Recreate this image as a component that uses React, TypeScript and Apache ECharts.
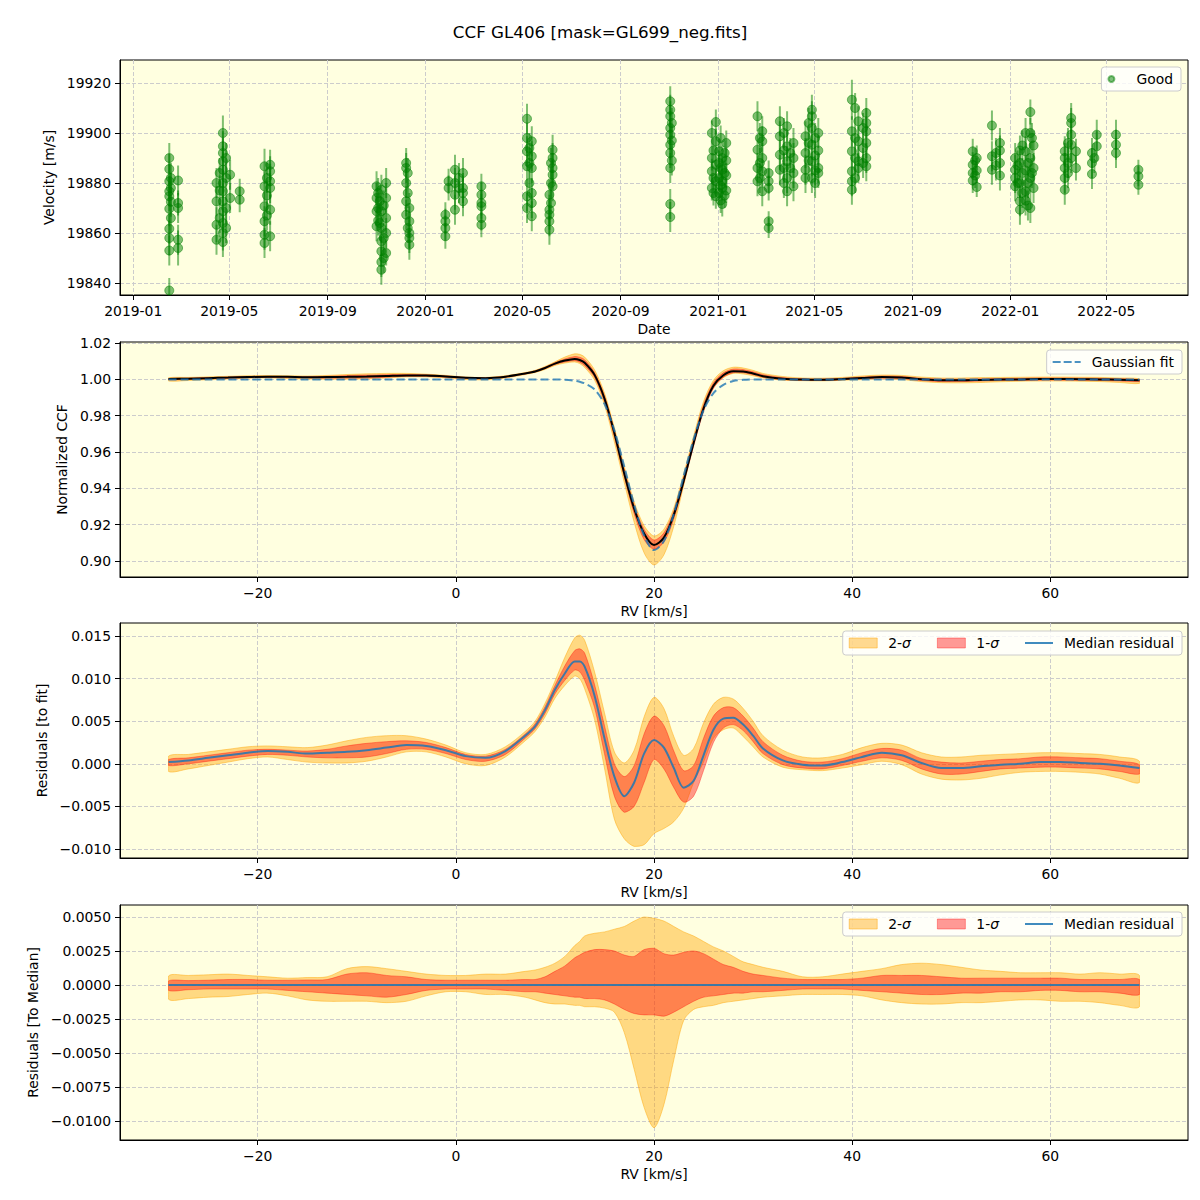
import React, { useEffect, useRef } from "react";
import * as echarts from "echarts";

const FONT = "DejaVu Sans";
const TITLE = "CCF GL406 [mask=GL699_neg.fits]";

// ---------- Panel 1: velocity time series  [date, velocity m/s, error m/s]
const OBS: [string, number, number][] = [
  ["2019-02-15", 19890, 6], ["2019-02-15", 19885.6, 6], ["2019-02-15", 19880.7, 7], ["2019-02-15", 19876.7, 6], ["2019-02-15", 19874.7, 6],
  ["2019-02-15", 19869.7, 7], ["2019-02-15", 19861.7, 6], ["2019-02-15", 19858, 7], ["2019-02-15", 19853, 6], ["2019-02-15", 19837, 5],
  ["2019-02-17", 19878, 6], ["2019-02-17", 19872.5, 6], ["2019-02-17", 19866, 6], ["2019-02-17", 19882, 6],
  ["2019-02-26", 19881, 6], ["2019-02-26", 19872, 5], ["2019-02-26", 19870, 6], ["2019-02-26", 19857.3, 6], ["2019-02-26", 19854, 7],
  ["2019-04-15", 19880, 6], ["2019-04-15", 19872.7, 6], ["2019-04-15", 19863.3, 7], ["2019-04-15", 19857.3, 6],
  ["2019-04-19", 19884, 6], ["2019-04-19", 19877, 6], ["2019-04-19", 19866, 6],
  ["2019-04-23", 19900, 7], ["2019-04-23", 19894.7, 6], ["2019-04-23", 19892, 6], ["2019-04-23", 19888.7, 6], ["2019-04-23", 19885.3, 7],
  ["2019-04-23", 19880, 6], ["2019-04-23", 19876.7, 6], ["2019-04-23", 19872.7, 7], ["2019-04-23", 19868.7, 6], ["2019-04-23", 19864, 6],
  ["2019-04-23", 19860, 7], ["2019-04-23", 19856.4, 6],
  ["2019-04-27", 19890, 6], ["2019-04-27", 19882, 6], ["2019-04-27", 19870, 6], ["2019-04-27", 19862, 6],
  ["2019-05-02", 19883.3, 6], ["2019-05-02", 19874, 6], ["2019-05-14", 19876.7, 5], ["2019-05-14", 19873.3, 5],
  ["2019-06-14", 19886.7, 7], ["2019-06-14", 19878.7, 6], ["2019-06-14", 19870.7, 6], ["2019-06-14", 19864.7, 6], ["2019-06-14", 19859.3, 6], ["2019-06-14", 19856, 6],
  ["2019-06-17", 19882, 6], ["2019-06-17", 19875, 6], ["2019-06-17", 19867, 6],
  ["2019-06-21", 19887.3, 6], ["2019-06-21", 19884.7, 6], ["2019-06-21", 19880.7, 7], ["2019-06-21", 19878, 6], ["2019-06-21", 19869.3, 6], ["2019-06-21", 19858.7, 6],
  ["2019-11-01", 19878.7, 6], ["2019-11-01", 19874, 6], ["2019-11-01", 19868.7, 6], ["2019-11-01", 19862.7, 6],
  ["2019-11-03", 19876, 6], ["2019-11-03", 19870, 6], ["2019-11-03", 19865, 6],
  ["2019-11-05", 19872.7, 6], ["2019-11-05", 19864, 7],
  ["2019-11-07", 19877.3, 6], ["2019-11-07", 19868.7, 6], ["2019-11-07", 19862, 6], ["2019-11-07", 19856.7, 6], ["2019-11-07", 19852.7, 6],
  ["2019-11-07", 19848.4, 6], ["2019-11-07", 19845.3, 6],
  ["2019-11-10", 19871, 6], ["2019-11-10", 19858, 6], ["2019-11-10", 19850, 6],
  ["2019-11-13", 19880, 6], ["2019-11-13", 19874, 6], ["2019-11-13", 19866, 6], ["2019-11-13", 19860, 6], ["2019-11-13", 19852, 5],
  ["2019-12-08", 19888, 6], ["2019-12-08", 19886, 6], ["2019-12-08", 19880, 6], ["2019-12-08", 19872.7, 6], ["2019-12-08", 19867.3, 6],
  ["2019-12-10", 19884, 6], ["2019-12-10", 19876, 6], ["2019-12-10", 19862, 6],
  ["2019-12-12", 19870, 6], ["2019-12-12", 19864.7, 6], ["2019-12-12", 19860, 6], ["2019-12-12", 19858, 6], ["2019-12-12", 19855.3, 6],
  ["2020-01-26", 19867.3, 5], ["2020-01-26", 19864.7, 5], ["2020-01-26", 19862, 5], ["2020-01-26", 19858.7, 5],
  ["2020-01-30", 19880.7, 5], ["2020-01-30", 19878, 5],
  ["2020-02-07", 19885.3, 6], ["2020-02-07", 19880, 6], ["2020-02-07", 19875.3, 6], ["2020-02-07", 19869.3, 6],
  ["2020-02-12", 19882, 6], ["2020-02-12", 19878, 6],
  ["2020-02-17", 19884, 6], ["2020-02-17", 19878, 6], ["2020-02-17", 19876, 6], ["2020-02-17", 19872.7, 6],
  ["2020-03-11", 19878.7, 5], ["2020-03-11", 19875.3, 5], ["2020-03-11", 19872, 5], ["2020-03-11", 19870.7, 5], ["2020-03-11", 19866, 5], ["2020-03-11", 19863.3, 5],
  ["2020-05-07", 19905.7, 6], ["2020-05-07", 19898, 6], ["2020-05-07", 19892.7, 6], ["2020-05-07", 19886.7, 6], ["2020-05-07", 19874.7, 6], ["2020-05-07", 19870, 6],
  ["2020-05-10", 19894, 6], ["2020-05-10", 19888, 6], ["2020-05-10", 19880, 6],
  ["2020-05-13", 19896.7, 6], ["2020-05-13", 19890.7, 6], ["2020-05-13", 19886, 6], ["2020-05-13", 19876, 6], ["2020-05-13", 19872, 6], ["2020-05-13", 19866.7, 6],
  ["2020-06-04", 19875.3, 6], ["2020-06-04", 19869.3, 6], ["2020-06-04", 19867.3, 6], ["2020-06-04", 19864.7, 6], ["2020-06-04", 19861.3, 6],
  ["2020-06-06", 19872, 6], ["2020-06-06", 19880, 6], ["2020-06-06", 19888, 6],
  ["2020-06-08", 19893.3, 6], ["2020-06-08", 19890, 6], ["2020-06-08", 19886, 6], ["2020-06-08", 19883.3, 6], ["2020-06-08", 19878.7, 6],
  ["2020-11-02", 19912.7, 6], ["2020-11-02", 19909.3, 6], ["2020-11-02", 19906.7, 6], ["2020-11-02", 19902, 6], ["2020-11-02", 19899.3, 6],
  ["2020-11-02", 19895.3, 6], ["2020-11-02", 19892, 6], ["2020-11-02", 19886, 6], ["2020-11-02", 19871.6, 6], ["2020-11-02", 19866.4, 6],
  ["2020-11-04", 19904, 6], ["2020-11-04", 19897, 6], ["2020-11-04", 19889, 6],
  ["2020-12-24", 19900, 5], ["2020-12-24", 19890, 5], ["2020-12-24", 19884.7, 5], ["2020-12-24", 19878, 5],
  ["2020-12-26", 19893, 5], ["2020-12-26", 19882, 5], ["2020-12-26", 19876, 5],
  ["2020-12-29", 19904.4, 5], ["2020-12-29", 19896.7, 5], ["2020-12-29", 19887.3, 5], ["2020-12-29", 19880.7, 5], ["2020-12-29", 19874.7, 5],
  ["2021-01-02", 19892.7, 5], ["2021-01-02", 19888, 5], ["2021-01-02", 19882, 5], ["2021-01-02", 19876, 5],
  ["2021-01-04", 19898, 5], ["2021-01-04", 19886, 5], ["2021-01-04", 19879, 5], ["2021-01-04", 19873, 5],
  ["2021-01-06", 19890, 5], ["2021-01-06", 19885.3, 5], ["2021-01-06", 19880.7, 5], ["2021-01-06", 19878, 5], ["2021-01-06", 19871.6, 5],
  ["2021-01-09", 19892, 5], ["2021-01-09", 19884, 5], ["2021-01-09", 19875, 5],
  ["2021-01-11", 19896, 5], ["2021-01-11", 19889, 5], ["2021-01-11", 19883, 5], ["2021-01-11", 19877, 5],
  ["2021-02-19", 19906.7, 6], ["2021-02-19", 19893.3, 6], ["2021-02-19", 19886, 6], ["2021-02-19", 19880.7, 6],
  ["2021-02-22", 19898, 6], ["2021-02-22", 19888, 6], ["2021-02-22", 19882, 6],
  ["2021-02-25", 19900.7, 6], ["2021-02-25", 19896.7, 6], ["2021-02-25", 19890, 6], ["2021-02-25", 19884.7, 6], ["2021-02-25", 19876.7, 6],
  ["2021-03-05", 19884, 5], ["2021-03-05", 19880.7, 5], ["2021-03-05", 19878, 5], ["2021-03-05", 19864.7, 4], ["2021-03-05", 19862, 4],
  ["2021-03-19", 19904.7, 6], ["2021-03-19", 19898.7, 6], ["2021-03-19", 19891.3, 6], ["2021-03-19", 19885.3, 6],
  ["2021-03-24", 19900, 6], ["2021-03-24", 19893, 6], ["2021-03-24", 19886, 6], ["2021-03-24", 19880, 6],
  ["2021-03-28", 19902.7, 6], ["2021-03-28", 19894.7, 6], ["2021-03-28", 19888.7, 6], ["2021-03-28", 19882, 6], ["2021-03-28", 19876.7, 6],
  ["2021-04-01", 19892, 6], ["2021-04-01", 19886, 6],
  ["2021-04-05", 19896, 6], ["2021-04-05", 19890, 6], ["2021-04-05", 19884, 6], ["2021-04-05", 19878.7, 6],
  ["2021-04-20", 19898.7, 6], ["2021-04-20", 19892, 6], ["2021-04-20", 19885.3, 6], ["2021-04-20", 19882, 6],
  ["2021-04-24", 19904, 6], ["2021-04-24", 19896, 6], ["2021-04-24", 19889, 6],
  ["2021-04-28", 19909.3, 6], ["2021-04-28", 19906.7, 6], ["2021-04-28", 19902, 6], ["2021-04-28", 19895.3, 6], ["2021-04-28", 19888.7, 6], ["2021-04-28", 19882, 6],
  ["2021-05-02", 19898, 6], ["2021-05-02", 19891, 6], ["2021-05-02", 19885, 6], ["2021-05-02", 19880, 6],
  ["2021-05-06", 19900, 6], ["2021-05-06", 19893, 6], ["2021-05-06", 19886, 6], ["2021-05-06", 19884, 6],
  ["2021-06-17", 19913.3, 8], ["2021-06-17", 19900.7, 6], ["2021-06-17", 19892.7, 6], ["2021-06-17", 19884.7, 6], ["2021-06-17", 19880.7, 6], ["2021-06-17", 19877.3, 6],
  ["2021-06-21", 19910, 6], ["2021-06-21", 19898, 6], ["2021-06-21", 19890, 6], ["2021-06-21", 19882, 6],
  ["2021-06-25", 19904.7, 6], ["2021-06-25", 19896.7, 6], ["2021-06-25", 19888.7, 6], ["2021-06-25", 19886, 6],
  ["2021-07-01", 19902, 6], ["2021-07-01", 19894, 6], ["2021-07-01", 19888, 6],
  ["2021-07-05", 19908, 6], ["2021-07-05", 19904, 6], ["2021-07-05", 19900.7, 6], ["2021-07-05", 19896, 6], ["2021-07-05", 19890, 6], ["2021-07-05", 19886.7, 6],
  ["2021-11-15", 19892.7, 5], ["2021-11-15", 19887.3, 5], ["2021-11-15", 19884, 5], ["2021-11-15", 19881, 5],
  ["2021-11-18", 19889, 5], ["2021-11-18", 19883, 5],
  ["2021-11-20", 19890, 5], ["2021-11-20", 19885, 5], ["2021-11-20", 19878.4, 4],
  ["2021-12-09", 19903, 6], ["2021-12-09", 19890.7, 6], ["2021-12-09", 19885.3, 6],
  ["2021-12-14", 19892, 6], ["2021-12-14", 19887, 6],
  ["2021-12-19", 19896, 6], ["2021-12-19", 19893, 6], ["2021-12-19", 19888, 6], ["2021-12-19", 19883, 6],
  ["2022-01-07", 19890, 6], ["2022-01-07", 19885.3, 6], ["2022-01-07", 19882, 6], ["2022-01-07", 19878.7, 6],
  ["2022-01-10", 19887, 6], ["2022-01-10", 19880, 6],
  ["2022-01-13", 19893, 6], ["2022-01-13", 19888, 6], ["2022-01-13", 19880, 6], ["2022-01-13", 19872.7, 6], ["2022-01-13", 19869.3, 6],
  ["2022-01-16", 19895, 6], ["2022-01-16", 19884, 6], ["2022-01-16", 19876, 6],
  ["2022-01-20", 19900, 6], ["2022-01-20", 19892.7, 6], ["2022-01-20", 19885, 6], ["2022-01-20", 19876.7, 6], ["2022-01-20", 19873, 6],
  ["2022-01-23", 19888, 6], ["2022-01-23", 19880, 6], ["2022-01-23", 19871, 6],
  ["2022-01-26", 19908.4, 5], ["2022-01-26", 19900, 6], ["2022-01-26", 19890, 6], ["2022-01-26", 19882, 6], ["2022-01-26", 19870, 6],
  ["2022-01-28", 19898, 6], ["2022-01-28", 19884, 6],
  ["2022-01-30", 19895, 6], ["2022-01-30", 19886, 6], ["2022-01-30", 19878, 6],
  ["2022-03-10", 19892.7, 6], ["2022-03-10", 19890, 6], ["2022-03-10", 19886, 6], ["2022-03-10", 19882, 6], ["2022-03-10", 19877.3, 6],
  ["2022-03-14", 19896, 6], ["2022-03-14", 19888, 6], ["2022-03-14", 19884, 6],
  ["2022-03-18", 19906, 6], ["2022-03-18", 19904, 6], ["2022-03-18", 19899.3, 6], ["2022-03-18", 19895.3, 6], ["2022-03-18", 19890, 6],
  ["2022-03-24", 19892.7, 5], ["2022-03-24", 19886, 5],
  ["2022-04-13", 19892, 6], ["2022-04-13", 19888, 6], ["2022-04-13", 19883.6, 6],
  ["2022-04-16", 19890, 6],
  ["2022-04-19", 19899.3, 6], ["2022-04-19", 19894.7, 6],
  ["2022-05-13", 19899.3, 6], ["2022-05-13", 19895.3, 6], ["2022-05-13", 19892, 6],
  ["2022-06-10", 19885.3, 4], ["2022-06-10", 19882.7, 4], ["2022-06-10", 19879.3, 4],
];

const DATE_TICKS = ["2019-01-01", "2019-05-01", "2019-09-01", "2020-01-01", "2020-05-01", "2020-09-01",
  "2021-01-01", "2021-05-01", "2021-09-01", "2022-01-01", "2022-05-01"];
const VEL_TICKS = [19840, 19860, 19880, 19900, 19920];

// ---------- Panels 2-4: CCF profile vs RV [km/s]
const RV = [
  -29, -27, -25, -23, -21, -19, -17, -15, -13, -11, -9, -7, -5, -3, -1,
  1, 3, 5, 7,
  8, 9, 10, 11, 12,
  12.5,
  13, 14, 15, 16, 17, 18, 19, 20, 21, 22, 23, 24, 25, 26, 27, 28, 29, 30, 31,
  33, 35, 37, 39, 41, 43, 45, 47, 49, 51, 53, 55, 57, 59, 61, 63, 65, 67, 69,
];

const GAUSS_FIT = [
  1, 1, 1, 1, 1, 1, 1, 1, 1, 1, 1, 1, 1, 1, 1,
  1, 1, 1, 1,
  1, 1, 0.99995, 0.9998, 0.9993,
  0.9987,
  0.9978, 0.9945, 0.9865, 0.972, 0.952, 0.931, 0.914, 0.906, 0.911, 0.926, 0.947, 0.967, 0.983, 0.9925, 0.997, 0.9991, 0.9998, 1, 1,
  1, 1, 1, 1, 1, 1, 1, 1, 1, 1, 1, 1, 1, 1, 1, 1, 1, 1, 1,
];

const CCF_MEDIAN = [
  1.0002, 1.0004, 1.0007, 1.001, 1.0013, 1.0015, 1.0014, 1.0012, 1.0013, 1.0014, 1.0016, 1.0019, 1.0022, 1.0021, 1.0016,
  1.0009, 1.0007, 1.0015, 1.0033,
  1.0044, 1.0063, 1.0087, 1.0104, 1.0113,
  1.0107,
  1.0092, 1.0025, 0.9895, 0.9705, 0.9482, 0.9288, 0.9152, 0.9088, 0.9129, 0.9255, 0.9442, 0.965, 0.984, 0.9965, 1.0023, 1.0045, 1.0044, 1.0033, 1.0018,
  1.0004, 0.9999, 0.9998, 1.0002, 1.0008, 1.0013, 1.001, 1.0001, 0.9995, 0.9995, 0.9997, 0.9999, 1.0, 1.0002, 1.0002, 1.0001, 1.0, 0.9998, 0.9995,
];

// residuals to the Gaussian fit
const RES_MED = [
  0.0002, 0.0004, 0.0007, 0.001, 0.0013, 0.0015, 0.0014, 0.0012, 0.0013, 0.0014, 0.0016, 0.0019, 0.0022, 0.0021, 0.0016,
  0.0009, 0.0007, 0.0015, 0.0033,
  0.0044, 0.0063, 0.0087, 0.0106, 0.012,
  0.012,
  0.0114, 0.008, 0.003, -0.0015, -0.0038, -0.0022, 0.0012, 0.0028, 0.0019, -0.0005, -0.0028, -0.002, 0.001, 0.004, 0.0053, 0.0054, 0.0046, 0.0033, 0.0018,
  0.0004, -0.0001, -0.0002, 0.0002, 0.0008, 0.0013, 0.001, 0.0001, -0.0005, -0.0005, -0.0003, -0.0001, 0.0, 0.0002, 0.0002, 0.0001, 0.0, -0.0002, -0.0005,
];
const RES_2HI = [
  0.0009, 0.0011, 0.0014, 0.0017, 0.002, 0.0021, 0.002, 0.0019, 0.0022, 0.0027, 0.0031, 0.0033, 0.0033, 0.0029, 0.0022,
  0.0013, 0.0011, 0.002, 0.0038,
  0.005, 0.0071, 0.0097, 0.0125, 0.0148,
  0.0151,
  0.0145, 0.0108, 0.006, 0.0014, 0.0001, 0.0016, 0.0055, 0.0078, 0.0065, 0.0032, 0.001, 0.0018, 0.0048, 0.007, 0.0078, 0.0076, 0.0065, 0.005, 0.0033,
  0.0016, 0.0008, 0.0007, 0.0011, 0.0019, 0.0024, 0.0022, 0.0013, 0.0008, 0.0008, 0.001, 0.0011, 0.0012, 0.0013, 0.0013, 0.0012, 0.0011, 0.0008, 0.0003,
];
const RES_2LO = [
  -0.0009, -0.0006, -0.0002, 0.0002, 0.0006, 0.0008, 0.0005, 0.0002, 0.0001, 0.0001, 0.0003, 0.0008, 0.0014, 0.0014, 0.0008,
  0.0, -0.0002, 0.0008, 0.0027,
  0.0038, 0.0055, 0.0077, 0.0092, 0.0103,
  0.01,
  0.0088, 0.0052, -0.0005, -0.0065, -0.0088, -0.0097, -0.0095, -0.0082, -0.0076, -0.0068, -0.0052, -0.0022, 0.0002, 0.003, 0.004, 0.0042, 0.0032, 0.002, 0.0008,
  -0.0004, -0.0007, -0.0008, -0.0005, -0.0001, 0.0003, -0.0001, -0.0012, -0.0018, -0.0019, -0.0017, -0.0013, -0.001, -0.0009, -0.0009, -0.001, -0.0012, -0.0017, -0.0022,
];
const RES_1HI = [
  0.0005, 0.0007, 0.001, 0.0013, 0.0016, 0.0017, 0.0016, 0.0015, 0.0017, 0.0021, 0.0024, 0.0026, 0.0027, 0.0025, 0.0019,
  0.0011, 0.0009, 0.0017, 0.0035,
  0.0047, 0.0067, 0.0092, 0.0115, 0.0133,
  0.0135,
  0.013, 0.0093, 0.0045, 0.0, -0.0015, -0.0002, 0.0035, 0.0056, 0.0045, 0.0015, -0.0008, -0.0002, 0.003, 0.0056, 0.0066, 0.0066, 0.0056, 0.0042, 0.0026,
  0.001, 0.0003, 0.0002, 0.0006, 0.0013, 0.0018, 0.0016, 0.0006, 0.0002, 0.0001, 0.0003, 0.0005, 0.0006, 0.0008, 0.0008, 0.0007, 0.0006, 0.0003, -0.0001,
];
const RES_1LO = [
  -0.0002, 0.0, 0.0003, 0.0006, 0.0009, 0.0011, 0.001, 0.0008, 0.0007, 0.0007, 0.0008, 0.0012, 0.0017, 0.0017, 0.0012,
  0.0005, 0.0003, 0.0011, 0.003,
  0.0041, 0.0059, 0.0082, 0.0098, 0.011,
  0.0108,
  0.0098, 0.0066, 0.0012, -0.0038, -0.0057, -0.005, -0.0022, 0.0005, -0.0006, -0.0028, -0.0045, -0.0038, -0.0008, 0.0025, 0.0042, 0.0046, 0.0039, 0.0026, 0.0012,
  -0.0001, -0.0005, -0.0006, -0.0002, 0.0003, 0.0007, 0.0004, -0.0006, -0.0012, -0.0012, -0.0009, -0.0006, -0.0005, -0.0004, -0.0004, -0.0005, -0.0006, -0.0009, -0.0012,
];

// residuals to the median CCF
const MED_LINE = [
  0, 0, 0, 0, 0, 0, 0, 0, 0, 0, 0, 0, 0, 0, 0,
  0, 0, 0, 0,
  0, 0, 0, 0, 0,
  0,
  0, 0, 0, 0, 0, 0, 0, 0, 0, 0, 0, 0, 0, 0, 0, 0, 0, 0, 0,
  0, 0, 0, 0, 0, 0, 0, 0, 0, 0, 0, 0, 0, 0, 0, 0, 0, 0, 0,
];
const MED_2HI = [
  0.00066, 0.0007, 0.00075, 0.0008, 0.0007, 0.0006, 0.0005, 0.00055, 0.0006, 0.0012, 0.00135, 0.0012, 0.001, 0.0008, 0.0007,
  0.0007, 0.0008, 0.0008, 0.001,
  0.0011, 0.0013, 0.0016, 0.0021, 0.0029,
  0.0032,
  0.0036, 0.0038, 0.0039, 0.0041, 0.0043, 0.0047, 0.005, 0.0049, 0.0047, 0.0043, 0.0039, 0.0036, 0.0032, 0.0028, 0.0025, 0.0021, 0.0017, 0.0015, 0.0013,
  0.001, 0.0006, 0.0006, 0.0008, 0.001, 0.0012, 0.0015, 0.0016, 0.0015, 0.0013, 0.0011, 0.001, 0.0009, 0.0009, 0.0009, 0.0008, 0.0009, 0.0008, 0.0007,
];
const MED_2LO = [
  -0.00105, -0.001, -0.0009, -0.00085, -0.0007, -0.0006, -0.0008, -0.0011, -0.0012, -0.0012, -0.0012, -0.0013, -0.0012, -0.0008, -0.0005,
  -0.0005, -0.0007, -0.0007, -0.0009,
  -0.0011, -0.0013, -0.0014, -0.0014, -0.0015,
  -0.0015,
  -0.0016, -0.0016, -0.0017, -0.002, -0.0035, -0.0062, -0.009, -0.0105, -0.0088, -0.0055, -0.0026, -0.0018, -0.0016, -0.0015, -0.0013, -0.0012, -0.0011, -0.001, -0.0009,
  -0.0008, -0.0007, -0.0007, -0.0007, -0.0008, -0.0011, -0.0013, -0.0014, -0.0014, -0.0013, -0.0013, -0.0012, -0.0011, -0.0011, -0.0012, -0.0012, -0.0013, -0.0015, -0.0016,
];
const MED_1HI = [
  0.0003, 0.00032, 0.00035, 0.0004, 0.0004, 0.00035, 0.00035, 0.00037, 0.0004, 0.0008, 0.0009, 0.0007, 0.0006, 0.0004, 0.00035,
  0.00035, 0.00035, 0.00035, 0.0004,
  0.0004, 0.0006, 0.001, 0.0014, 0.002,
  0.0022,
  0.0024, 0.0026, 0.0026, 0.0025, 0.0022, 0.0021, 0.0026, 0.0027, 0.0023, 0.0022, 0.0024, 0.0025, 0.0023, 0.0019, 0.0015, 0.0013, 0.001, 0.0008, 0.0007,
  0.0005, 0.0004, 0.0004, 0.0004, 0.0005, 0.0007, 0.0007, 0.0007, 0.0006, 0.0005, 0.0005, 0.0005, 0.0005, 0.0005, 0.0005, 0.0004, 0.0004, 0.0004, 0.0004,
];
const MED_1LO = [
  -0.0004, -0.00035, -0.0003, -0.0003, -0.0003, -0.0003, -0.0004, -0.0005, -0.0006, -0.0007, -0.0008, -0.0009, -0.0007, -0.0004, -0.0003,
  -0.0003, -0.0003, -0.0004, -0.0005,
  -0.0005, -0.0006, -0.0007, -0.0008, -0.0009,
  -0.0009,
  -0.001, -0.001, -0.0011, -0.0014, -0.0018, -0.0021, -0.0022, -0.0022, -0.0023, -0.002, -0.0016, -0.0012, -0.0009, -0.0008, -0.0007, -0.0006, -0.0006, -0.0005, -0.0005,
  -0.0004, -0.0003, -0.0003, -0.0003, -0.0004, -0.0005, -0.0006, -0.0007, -0.0007, -0.0006, -0.0006, -0.0005, -0.0005, -0.0004, -0.0004, -0.0005, -0.0005, -0.0006, -0.0007,
];

const RV_TICKS = [-20, 0, 20, 40, 60];
const CCF_TICKS = [0.9, 0.92, 0.94, 0.96, 0.98, 1.0, 1.02];
const RES_TICKS = [-0.01, -0.005, 0, 0.005, 0.01, 0.015];
const MED_TICKS = [-0.01, -0.0075, -0.005, -0.0025, 0, 0.0025, 0.005];

// ---------- styling
const BG = "#FFFFE0";
const GRID_COLOR = "#cccccc";
const GREEN = "rgba(0,128,0,0.5)";
const ORANGE_FILL = "rgba(255,165,0,0.42)";
const ORANGE_EDGE = "rgba(255,165,0,0.45)";
const RED_FILL = "rgba(255,0,0,0.4)";
const RED_EDGE = "rgba(255,0,0,0.35)";
const BLUE = "rgba(31,119,180,0.85)";
const TXT = { color: "#000", fontSize: 13.9, fontFamily: FONT };

const minusFmt = (s: string) => s.replace("-", "\u2212");

function mkAxis(gridIndex: number, min: number, max: number, ticks: number[], fmt: (v: number) => string, name: string, nameGap: number) {
  return {
    type: "value",
    gridIndex,
    min,
    max,
    name,
    nameLocation: "middle",
    nameGap,
    nameTextStyle: { ...TXT },
    axisLine: { show: true, onZero: false, lineStyle: { color: "#000", width: 1 } },
    axisTick: { show: true, inside: false, length: 5, customValues: ticks, lineStyle: { color: "#000", width: 1 } },
    axisLabel: { show: true, customValues: ticks, formatter: fmt, margin: 9, ...TXT },
    splitLine: { show: true, lineStyle: { color: GRID_COLOR, width: 1, type: [4, 2] } },
    splitArea: { show: false },
  };
}

function bandSeries(axis: number, lo: number[], hi: number[], fill: string, edge: string, name: string, z: number) {
  return {
    type: "custom",
    name,
    xAxisIndex: axis,
    yAxisIndex: axis,
    z,
    silent: true,
    clip: true,
    itemStyle: { color: fill },
    data: [[RV[0], lo[0]]],
    renderItem: (_params: any, api: any) => {
      const top = RV.map((x, i) => api.coord([x, hi[i]]));
      const bot = RV.map((x, i) => api.coord([x, lo[i]])).reverse();
      const pts = top.concat(bot);
      let x0 = Infinity, x1 = -Infinity, y0 = Infinity, y1 = -Infinity;
      pts.forEach((p: number[]) => {
        x0 = Math.min(x0, p[0]); x1 = Math.max(x1, p[0]);
        y0 = Math.min(y0, p[1]); y1 = Math.max(y1, p[1]);
      });
      return {
        type: "polygon",
        shape: { points: pts, smooth: 0.3, smoothConstraint: [[x0, y0], [x1, y1]] },
        style: { fill, stroke: edge, lineWidth: 1 },
      };
    },
  };
}

function lineSeries(axis: number, ys: number[], name: string, color: string, width: number, z: number, dash?: number[]) {
  return {
    type: "line",
    name,
    xAxisIndex: axis,
    yAxisIndex: axis,
    data: RV.map((x, i) => [x, ys[i]]),
    symbol: "none",
    smooth: 0.3,
    silent: true,
    z,
    lineStyle: { color, width, type: dash || "solid" },
    itemStyle: { color },
  };
}

function buildOption() {
  const grids = [60, 342, 623, 905].map((top) => ({
    left: 120, top, width: 1068, height: 235,
    show: true, backgroundColor: BG, borderColor: "#000", borderWidth: 1,
    containLabel: false, outerBoundsMode: "none",
  }));

  const dateMs = DATE_TICKS.map((d) => Date.parse(d));
  const dateFmt = (v: number) => {
    const d = new Date(v);
    return `${d.getUTCFullYear()}-${String(d.getUTCMonth() + 1).padStart(2, "0")}`;
  };
  const rvFmt = (v: number) => minusFmt(String(v));

  const xAxis = [
    mkAxis(0, Date.parse("2018-12-15T10:00:00Z"), Date.parse("2022-08-11T00:00:00Z"), dateMs, dateFmt, "Date", 27),
    mkAxis(1, -33.9, 73.9, RV_TICKS, rvFmt, "RV [km/s]", 27),
    mkAxis(2, -33.9, 73.9, RV_TICKS, rvFmt, "RV [km/s]", 27),
    mkAxis(3, -33.9, 73.9, RV_TICKS, rvFmt, "RV [km/s]", 27),
  ];
  const yAxis = [
    mkAxis(0, 19835.2, 19929.2, VEL_TICKS, (v) => String(v), "Velocity [m/s]", 60),
    mkAxis(1, 0.8912, 1.0206, CCF_TICKS, (v) => v.toFixed(2), "Normalized CCF", 46),
    mkAxis(2, -0.01106, 0.01653, RES_TICKS, (v) => minusFmt(v.toFixed(3)), "Residuals [to fit]", 66),
    mkAxis(3, -0.0114, 0.00588, MED_TICKS, (v) => minusFmt(v.toFixed(4)), "Residuals [To Median]", 75),
  ];

  // panel 2 bands: fit-residual spread carried onto the CCF
  const ccf2lo = CCF_MEDIAN.map((c, i) => c + RES_2LO[i] - RES_MED[i]);
  const ccf2hi = CCF_MEDIAN.map((c, i) => c + RES_2HI[i] - RES_MED[i]);
  const ccf1lo = CCF_MEDIAN.map((c, i) => c + RES_1LO[i] - RES_MED[i]);
  const ccf1hi = CCF_MEDIAN.map((c, i) => c + RES_1HI[i] - RES_MED[i]);

  const series: any[] = [
    {
      type: "custom",
      name: "Good errors",
      xAxisIndex: 0,
      yAxisIndex: 0,
      z: 2,
      silent: true,
      clip: true,
      data: OBS.map(([d, v, e]) => [Date.parse(d), v, e]),
      encode: { x: 0, y: 1 },
      renderItem: (_params: any, api: any) => {
        const t = api.value(0), v = api.value(1), e = api.value(2);
        const a = api.coord([t, v - e]);
        const b = api.coord([t, v + e]);
        return {
          type: "line",
          shape: { x1: a[0], y1: a[1], x2: b[0], y2: b[1] },
          style: { stroke: GREEN, lineWidth: 2 },
        };
      },
    },
    {
      type: "scatter",
      name: "Good",
      xAxisIndex: 0,
      yAxisIndex: 0,
      z: 3,
      silent: true,
      symbol: "circle",
      symbolSize: 9,
      data: OBS.map(([d, v]) => [Date.parse(d), v]),
      itemStyle: { color: GREEN, borderColor: GREEN, borderWidth: 1, opacity: 1 },
    },
    bandSeries(1, ccf2lo, ccf2hi, ORANGE_FILL, ORANGE_EDGE, "ccf 2-sigma", 2),
    bandSeries(1, ccf1lo, ccf1hi, RED_FILL, RED_EDGE, "ccf 1-sigma", 3),
    lineSeries(1, CCF_MEDIAN, "CCF median", "#000", 2, 4),
    lineSeries(1, GAUSS_FIT, "Gaussian fit", "rgba(31,119,180,0.8)", 2, 5, [8, 4]),
    bandSeries(2, RES_2LO, RES_2HI, ORANGE_FILL, ORANGE_EDGE, "2-σ", 2),
    bandSeries(2, RES_1LO, RES_1HI, RED_FILL, RED_EDGE, "1-σ", 3),
    lineSeries(2, RES_MED, "Median residual", BLUE, 2, 4),
    bandSeries(3, MED_2LO, MED_2HI, ORANGE_FILL, ORANGE_EDGE, "2-σ", 2),
    bandSeries(3, MED_1LO, MED_1HI, RED_FILL, RED_EDGE, "1-σ", 3),
    lineSeries(3, MED_LINE, "Median residual", BLUE, 2, 4),
  ];

  const legendBase = {
    orient: "horizontal",
    backgroundColor: "rgba(255,255,255,0.8)",
    borderColor: "#cccccc",
    borderWidth: 1,
    borderRadius: 3,
    padding: [5, 8, 5, 6],
    selectedMode: false,
    itemWidth: 28,
    itemHeight: 10,
    textStyle: { ...TXT, padding: [0, 0, 0, 6], rich: { s: { fontStyle: "italic", fontSize: 13.9, fontFamily: FONT, color: "#000" } } },
    formatter: (name: string) => name.replace("σ", "{s|σ}"),
  };
  const bandLegendData = [
    { name: "2-σ", icon: "rect", itemStyle: { color: ORANGE_FILL, borderColor: ORANGE_EDGE, borderWidth: 1 } },
    { name: "1-σ", icon: "rect", itemStyle: { color: RED_FILL, borderColor: RED_EDGE, borderWidth: 1 } },
    { name: "Median residual", icon: "path://M0,4H28V6H0Z", itemStyle: { color: BLUE } },
  ];
  const legend = [
    { ...legendBase, top: 67, right: 19, itemHeight: 6, data: [{ name: "Good", icon: "circle", itemStyle: { color: GREEN } }] },
    { ...legendBase, top: 350, right: 18, data: [{ name: "Gaussian fit", icon: "path://M0,4h8v2h-8z M11,4h8v2h-8z M22,4h6v2h-6z", itemStyle: { color: "rgba(31,119,180,0.8)" } }] },
    { ...legendBase, top: 631, right: 18, itemGap: 26, data: bandLegendData },
    { ...legendBase, top: 912, right: 18, itemGap: 26, data: bandLegendData },
  ];

  return {
    animation: false,
    backgroundColor: "#ffffff",
    textStyle: { fontFamily: FONT },
    title: {
      text: TITLE,
      left: "center",
      top: 23,
      padding: 0,
      textStyle: { color: "#000", fontSize: 16.7, fontWeight: "normal", fontFamily: FONT },
    },
    grid: grids,
    xAxis,
    yAxis,
    legend,
    series,
  };
}

export default function App() {
  const ref = useRef<HTMLDivElement>(null);
  useEffect(() => {
    if (!ref.current) return;
    const chart = echarts.init(ref.current, null, { renderer: "svg" });
    chart.setOption(buildOption() as any);
    return () => chart.dispose();
  }, []);
  return (
    <div
      ref={ref}
      style={{ position: "absolute", left: 0, top: 0, width: 1200, height: 1200, background: "#fff" }}
    />
  );
}
